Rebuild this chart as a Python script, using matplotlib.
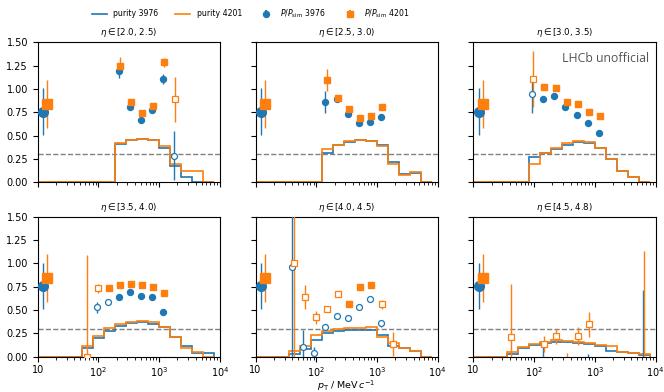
import numpy as np
import matplotlib.pyplot as plt
from matplotlib.lines import Line2D

nan = np.nan

# bin edges in pT (MeV/c)
pt_edges = [10, 15.2, 23.1, 35.1, 53.4, 81.1, 123, 187, 285, 433, 658,
            1000, 1520, 2310, 3510, 5340, 8120]

eta_bins = ['[2.0, 2.5)', '[2.5, 3.0)', '[3.0, 3.5)',
            '[3.5, 4.0)', '[4.0, 4.5)', '[4.5, 4.8)']

# purity per bin, run 3976 (blue) and 4201 (orange)
pur_3976 = [
    [0, 0, 0, 0, 0, 0, 0, 0.41, 0.45, 0.46, 0.454, 0.364, 0.18, 0.06, 0, 0],
    [0, 0, 0, 0, 0, 0, 0.318, 0.40, 0.436, 0.45, 0.44, 0.40, 0.221, 0.086, 0.096, 0],
    [0, 0, 0, 0, 0, 0.275, 0.31, 0.36, 0.40, 0.43, 0.425, 0.365, 0.245, 0.125, 0.06, 0],
    [0, 0, 0, 0, 0.089, 0.204, 0.279, 0.332, 0.357, 0.375, 0.354, 0.321, 0.214, 0.114, 0.043, 0.043],
    [0, 0, 0, 0.03, 0.08, 0.18, 0.25, 0.28, 0.286, 0.286, 0.286, 0.23, 0.12, 0.09, 0.06, 0],
    [0, 0, 0, 0.029, 0.089, 0.125, 0.143, 0.16, 0.157, 0.143, 0.132, 0.118, 0.06, 0.046, 0.036, 0.018],
]
pur_4201 = [
    [0, 0, 0, 0, 0, 0, 0, 0.418, 0.457, 0.468, 0.45, 0.39, 0.196, 0.12, 0.12, 0],
    [0, 0, 0, 0, 0, 0, 0.354, 0.40, 0.446, 0.457, 0.446, 0.39, 0.196, 0.079, 0.11, 0],
    [0, 0, 0, 0, 0, 0.193, 0.31, 0.368, 0.418, 0.44, 0.432, 0.373, 0.246, 0.125, 0.06, 0],
    [0, 0, 0, 0, 0.118, 0.221, 0.305, 0.346, 0.371, 0.386, 0.368, 0.321, 0.214, 0.089, 0.054, 0],
    [0, 0, 0, 0.064, 0.118, 0.232, 0.275, 0.296, 0.307, 0.307, 0.314, 0.214, 0.143, 0.09, 0.06, 0],
    [0, 0, 0, 0.054, 0.107, 0.136, 0.154, 0.179, 0.171, 0.16, 0.143, 0.125, 0.114, 0.054, 0.043, 0.025],
]

# P/P_sim per bin and its error
ratio_3976 = [
    [nan, nan, nan, nan, nan, nan, nan, 1.196, 0.804, 0.668, 0.775, 1.107, 0.286, nan, nan, nan],
    [nan, nan, nan, nan, nan, nan, 0.861, 0.893, 0.732, 0.632, 0.646, 0.70, nan, nan, nan, nan],
    [nan, nan, nan, nan, nan, 0.943, 0.893, 0.925, 0.804, 0.718, 0.632, 0.525, nan, nan, nan, nan],
    [nan, nan, nan, nan, nan, 0.529, 0.589, 0.643, 0.693, 0.654, 0.636, 0.482, nan, nan, nan, nan],
    [nan, nan, nan, 0.964, 0.107, 0.043, 0.321, 0.439, 0.411, 0.536, 0.618, 0.357, nan, nan, nan, nan],
    [nan, nan, nan, nan, nan, nan, -0.1, nan, nan, nan, -0.1, nan, nan, nan, nan, -0.2],
]
err_3976 = [
    [0, 0, 0, 0, 0, 0, 0, 0.08, 0.02, 0.02, 0.02, 0.05, 0.26, 0, 0, 0],
    [0, 0, 0, 0, 0, 0, 0.12, 0.02, 0.02, 0.02, 0.02, 0.02, 0, 0, 0, 0],
    [0, 0, 0, 0, 0, 0.2, 0.02, 0.02, 0.02, 0.02, 0.02, 0.02, 0, 0, 0, 0],
    [0, 0, 0, 0, 0, 0.06, 0.02, 0.02, 0.02, 0.02, 0.02, 0.02, 0, 0, 0, 0],
    [0, 0, 0, 1.6, 0.18, 0.06, 0.03, 0.02, 0.02, 0.02, 0.02, 0.04, 0, 0, 0, 0],
    [0, 0, 0, 0, 0, 0, 0.225, 0, 0, 0, 0.13, 0, 0, 0, 0, 0.914],
]
ratio_4201 = [
    [nan, nan, nan, nan, nan, nan, nan, 1.25, 0.864, 0.739, 0.818, 1.286, 0.889, nan, nan, nan],
    [nan, nan, nan, nan, nan, nan, 1.096, 0.90, 0.786, 0.693, 0.711, 0.811, nan, nan, nan, nan],
    [nan, nan, nan, nan, nan, 1.107, 1.025, 1.007, 0.864, 0.843, 0.757, 0.714, nan, nan, nan, nan],
    [nan, nan, nan, nan, 0.0, 0.732, 0.739, 0.768, 0.782, 0.764, 0.75, 0.679, nan, nan, nan, nan],
    [nan, nan, nan, 1.0, 0.643, 0.421, 0.511, 0.671, 0.568, 0.743, 0.768, 0.561, 0.136, nan, nan, nan],
    [nan, nan, nan, 0.214, nan, nan, 0.136, 0.221, -0.1, 0.221, 0.346, nan, nan, nan, nan, -0.2],
]
err_4201 = [
    [0, 0, 0, 0, 0, 0, 0, 0.09, 0.02, 0.02, 0.02, 0.05, 0.24, 0, 0, 0],
    [0, 0, 0, 0, 0, 0, 0.12, 0.02, 0.02, 0.02, 0.02, 0.02, 0, 0, 0, 0],
    [0, 0, 0, 0, 0, 0.3, 0.02, 0.02, 0.02, 0.02, 0.02, 0.02, 0, 0, 0, 0],
    [0, 0, 0, 0, 1.09, 0.05, 0.02, 0.02, 0.02, 0.02, 0.02, 0.02, 0, 0, 0, 0],
    [0, 0, 0, 1.6, 0.13, 0.07, 0.02, 0.02, 0.02, 0.02, 0.02, 0.05, 0.13, 0, 0, 0],
    [0, 0, 0, 0.57, 0, 0, 0.09, 0.08, 0.14, 0.1, 0.13, 0, 0, 0, 0, 1.336],
]

# integrated values (same in every panel)
total_3976, total_err_3976 = 0.757, 0.25
total_4201, total_err_4201 = 0.84, 0.258

purity_cut = 0.3

blue = '#1f77b4'
orange = '#ff7f0e'

plt.rcParams['font.family'] = 'DejaVu Sans'
plt.rcParams['mathtext.fontset'] = 'dejavusans'

fig, axes = plt.subplots(2, 3, figsize=(6.64, 3.92), dpi=100, sharex=True, sharey=True)
fig.subplots_adjust(left=0.0568, right=0.9873, top=0.892, bottom=0.090,
                    wspace=0.196, hspace=0.246)

edges = np.array(pt_edges)
centers = np.sqrt(edges[:-1] * edges[1:])

for i, ax in enumerate(axes.flat):
    ax.stairs(pur_3976[i], edges, color=blue, lw=1.2, zorder=2)
    ax.stairs(pur_4201[i], edges, color=orange, lw=1.2, zorder=2)
    ax.axhline(purity_cut, color='grey', ls='--', lw=1.0, zorder=1)

    for pur, ratio, err, col, mk, shift in [
            (pur_3976[i], ratio_3976[i], err_3976[i], blue, 'o', 0.935),
            (pur_4201[i], ratio_4201[i], err_4201[i], orange, 's', 0.975)]:
        pur = np.array(pur)
        ratio = np.array(ratio)
        err = np.array(err)
        good = pur >= purity_cut
        x = centers * shift
        ax.errorbar(x[good], ratio[good], yerr=err[good], fmt=mk, color=col,
                    ms=4.3, elinewidth=1.0, capsize=0, zorder=3)
        ax.errorbar(x[~good], ratio[~good], yerr=err[~good], fmt=mk, color=col,
                    mfc='white', mec=col, mew=0.9, ms=4.3, elinewidth=1.0,
                    capsize=0, zorder=3)

    ax.errorbar([12.4], [total_3976], yerr=[total_err_3976], fmt='o', color=blue,
                ms=7, elinewidth=1.0, capsize=0, zorder=4)
    ax.errorbar([14.4], [total_4201], yerr=[total_err_4201], fmt='s', color=orange,
                ms=7, elinewidth=1.0, capsize=0, zorder=4)

    ax.set_xscale('log')
    ax.set_xlim(10, 1e4)
    ax.set_ylim(0, 1.5)
    ax.set_yticks([0, 0.25, 0.5, 0.75, 1.0, 1.25, 1.5])
    ax.set_yticklabels(['0.00', '0.25', '0.50', '0.75', '1.00', '1.25', '1.50'])
    ax.set_xticks([10, 100, 1000, 10000])
    ax.set_xticklabels(['10', '$10^2$', '$10^3$', '$10^4$'])
    ax.tick_params(labelsize=7, length=3.5, width=0.8)
    ax.tick_params(axis='x', pad=2.5)
    ax.tick_params(which='minor', length=2, width=0.6)
    ax.set_title(r'$\eta \in$' + eta_bins[i], fontsize=6.2, pad=5)

axes[1, 1].set_xlabel(r'$p_\mathrm{T}$ / MeV$\,c^{-1}$', fontsize=6.8)
axes[1, 1].xaxis.set_label_coords(0.5, -0.158)

axes[0, 2].text(0.965, 0.93, 'LHCb unofficial', transform=axes[0, 2].transAxes,
                ha='right', va='top', fontsize=8.8, color='#555555', family='Open Sans')

handles = [
    Line2D([], [], color=blue, lw=1.2),
    Line2D([], [], color=orange, lw=1.2),
    axes[0, 0].errorbar([], [], yerr=[], fmt='o', color=blue, ms=4.3, capsize=0),
    axes[0, 0].errorbar([], [], yerr=[], fmt='s', color=orange, ms=4.3, capsize=0),
]
labels = ['purity 3976', 'purity 4201',
          r'$P/P_\mathrm{sim}$ 3976', r'$P/P_\mathrm{sim}$ 4201']
fig.legend(handles, labels, loc='center', bbox_to_anchor=(0.377, 1 - 13.5 / 392),
           ncol=4, frameon=False, fontsize=5.6, handlelength=2.0, columnspacing=2.1)

fig.savefig('out.png', dpi=100)
